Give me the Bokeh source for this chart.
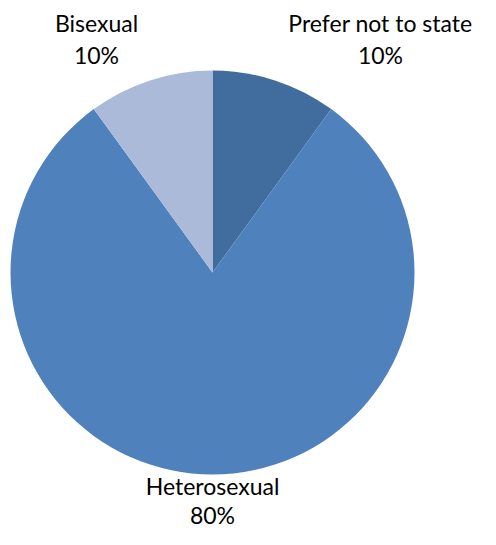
import numpy as np
from bokeh.plotting import figure
from bokeh.models import ColumnDataSource, Range1d
from bokeh.core.properties import value
from bokeh.embed import file_html
from bokeh.resources import INLINE

categories = ["Prefer not to state", "Heterosexual", "Bisexual"]
values = [10, 80, 10]
colors = ["#416C9E", "#4F81BD", "#AABAD8"]

# layout (label offsets from pie centre, in pixels)
label_dx = [168, 0, -116]
name_dy = [250, -213, 250]
pct_dy = [218, -242, 218]

W, H = 480, 529
cx, cy, R = 212, 257, 202

vals = np.array(values, dtype=float)
frac = vals / vals.sum()
cum = np.concatenate([[0], np.cumsum(frac)])
start = np.pi / 2 - cum[:-1] * 2 * np.pi
end = np.pi / 2 - cum[1:] * 2 * np.pi

src = ColumnDataSource(dict(
    cat=categories, start=start, end=end, color=colors,
    x=[cx] * len(values), y=[cy] * len(values),
))

p = figure(width=W, height=H, x_range=Range1d(0, W), y_range=Range1d(0, H),
           output_backend="svg", toolbar_location=None, min_border=0)
p.axis.visible = False
p.grid.visible = False
p.outline_line_color = None

p.wedge(x="x", y="y", radius=R, start_angle="start", end_angle="end",
        direction="clock", fill_color="color", line_color=None, source=src)

lab = ColumnDataSource(dict(
    nx=[cx + d for d in label_dx],
    ny=[cy + d for d in name_dy],
    py=[cy + d for d in pct_dy],
    name=categories,
    pct=[f"{round(f * 100):.0f}%" for f in frac],
))
common = dict(text_align="center", text_baseline="middle",
              text_font=value("Lato"), text_font_size="23px",
              text_color="#000000", source=lab)
p.text(x="nx", y="ny", text="name", **common)
p.text(x="nx", y="py", text="pct", **common)

open("out.html", "w").write(file_html(p, INLINE))
